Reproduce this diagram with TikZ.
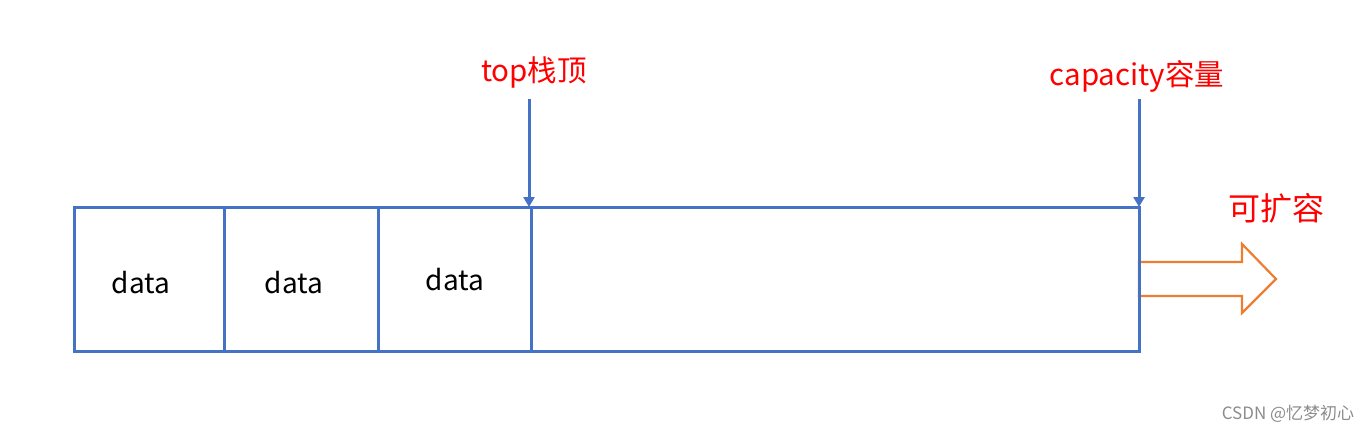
\documentclass[tikz,border=0pt]{standalone}
\usepackage{fontspec}
\newfontfamily\cjk{Noto Sans CJK SC}
\usepackage{tikz}
\usetikzlibrary{arrows.meta,positioning,calc}
\definecolor{stackblue}{HTML}{4472C4}
\definecolor{groworange}{HTML}{ED7D31}
\definecolor{labelred}{HTML}{FF0000}

\begin{document}
\begin{tikzpicture}[x=1pt,y=-1pt,
  cell/.style={draw=stackblue,line width=3pt,minimum height=144pt,inner sep=0pt,outer sep=0pt,anchor=north west},
  item/.style={inner sep=0pt,font=\cjk\fontsize{28}{32}\selectfont},
  tag/.style={text=labelred,inner sep=0pt,font=\cjk\fontsize{29.5}{34}\selectfont},
  ptr/.style={draw=stackblue,line width=3pt,-{Triangle[width=11pt,length=10pt]}}]
\useasboundingbox (0,0) rectangle (1372,433);
% array cells
\node[cell,minimum width=150pt] (c1) at (74,207) {};
\node[cell,minimum width=154pt] (c2) at (c1.north east) {};
\node[cell,minimum width=153pt] (c3) at (c2.north east) {};
\node[cell,minimum width=608pt] (c4) at (c3.north east) {};
\node[item] (d1) at (141,283) {data};
\node[item] (d2) at (294,283) {data};
\node[item] (d3) at (455,280) {data};
% labels
\node[tag] (toplbl) at (534,72) {top栈顶};
\node[tag] (caplbl) at (1137,76) {capacity容量};
\node[tag,font=\cjk\fontsize{32}{36}\selectfont] (growlbl) at (1276,208) {可扩容};
\coordinate (topstart) at (529,99);
\coordinate (capstart) at (c4.north east |- 0,99);
\draw[ptr] (topstart) -- (topstart |- c3.north east);
\draw[ptr] (capstart) -- (c4.north east);
% grow arrow
\draw[groworange,line width=2.2pt] (c4.east |- 0,262) -- (1242,262) -- (1242,244) -- (1276,279)
  -- (1242,313) -- (1242,296) -- (c4.east |- 0,296) -- cycle;
\draw[stackblue,line width=3pt] (c4.north east) -- (c4.south east);
% watermark
\node[text=black!45,inner sep=0pt,font=\cjk\fontsize{17}{19}\selectfont] (mark) at (1288,414) {CSDN @忆梦初心};
\end{tikzpicture}
\end{document}
